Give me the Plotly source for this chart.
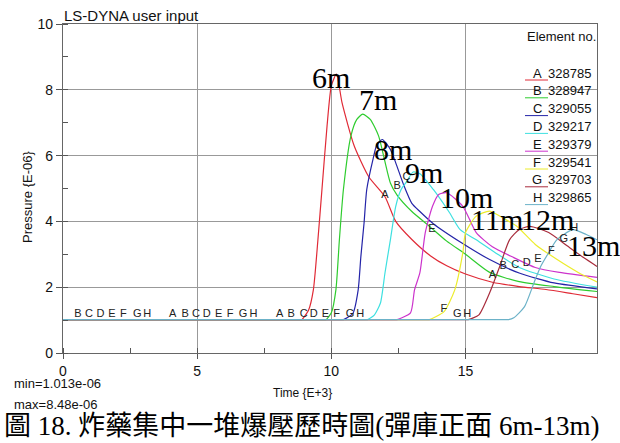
import plotly.graph_objects as go

# ---------------- data ----------------
element_letters = ["A", "B", "C", "D", "E", "F", "G", "H"]
element_ids = ["328785", "328947", "329055", "329217", "329379", "329541", "329703", "329865"]
distance_labels = ["6m", "7m", "8m", "9m", "10m", "11m", "12m", "13m"]
line_colors = ["#e02a36", "#2ecc2e", "#2424a8", "#3ee0e0", "#cc33cc", "#ecec2c", "#a82c3c", "#6cb2c8"]

a_time = [0, 8.5, 8.86, 8.9, 9.15, 9.33, 9.5, 9.65, 9.84, 10.0, 10.19, 10.4, 10.85, 11.4, 12.0, 12.4, 13.0, 13.7, 14.3, 15.0, 16.0, 17.0, 18.0, 19.0, 19.9]
a_pres = [1.013, 1.013, 1.013, 1.013, 1.3, 1.92, 3.44, 4.97, 6.9, 8.12, 8.48, 7.6, 6.3, 5.35, 4.75, 4.0, 3.45, 2.95, 2.65, 2.4, 2.15, 2.02, 1.93, 1.8, 1.68]

b_time = [0, 9.4, 9.76, 9.8, 10.0, 10.17, 10.3, 10.45, 10.73, 10.95, 11.17, 11.45, 11.76, 11.98, 12.2, 12.45, 13.0, 13.66, 14.3, 15.0, 15.9, 17.0, 18.3, 19.9]
b_pres = [1.013, 1.013, 1.013, 1.013, 1.22, 1.92, 3.44, 4.97, 6.6, 7.1, 7.26, 7.1, 6.6, 5.88, 5.17, 4.8, 4.3, 3.85, 3.4, 3.0, 2.45, 2.17, 2.02, 1.87]

c_time = [0, 10.0, 10.41, 10.45, 10.8, 11.0, 11.1, 11.22, 11.32, 11.55, 11.7, 11.9, 12.2, 12.4, 12.7, 13.0, 13.3, 13.8, 14.85, 15.9, 17.0, 18.3, 19.9]
c_pres = [1.013, 1.013, 1.013, 1.013, 1.2, 1.92, 2.93, 3.96, 4.97, 5.88, 6.34, 6.49, 6.19, 5.78, 5.1, 4.55, 4.3, 3.93, 3.35, 2.84, 2.43, 2.13, 1.95]

d_time = [0, 11.0, 11.31, 11.35, 11.6, 11.83, 12.0, 12.2, 12.4, 12.6, 12.78, 13.05, 13.3, 13.8, 14.4, 14.8, 15.4, 16.2, 17.0, 18.3, 19.9]
d_pres = [1.013, 1.013, 1.013, 1.013, 1.15, 1.52, 2.44, 3.44, 4.46, 4.97, 5.18, 5.5, 5.45, 4.97, 4.27, 3.75, 3.44, 3.0, 2.6, 2.25, 2.0]

e_time = [0, 12.0, 12.41, 12.45, 12.95, 13.1, 13.3, 13.5, 13.77, 14.0, 14.3, 14.9, 15.4, 16.0, 16.8, 17.6, 18.5, 19.9]
e_pres = [1.013, 1.013, 1.013, 1.013, 1.22, 1.92, 2.44, 3.66, 4.46, 4.82, 4.87, 4.46, 3.66, 3.23, 2.9, 2.6, 2.45, 2.3]

f_time = [0, 13.2, 13.61, 13.65, 14.2, 14.6, 14.9, 15.0, 15.4, 15.9, 16.4, 16.9, 17.6, 18.4, 19.2, 19.9]
f_pres = [1.013, 1.013, 1.013, 1.013, 1.26, 1.92, 3.05, 3.66, 4.16, 4.31, 4.1, 3.86, 3.3, 2.85, 2.45, 2.16]

g_time = [0, 14.7, 15.06, 15.1, 15.5, 15.9, 16.27, 16.64, 17.0, 17.4, 18.1, 18.8, 19.4, 19.9]
g_pres = [1.013, 1.013, 1.013, 1.013, 1.16, 1.83, 2.62, 3.44, 3.75, 3.85, 3.66, 3.25, 2.9, 2.63]

h_time = [0, 16.2, 16.56, 16.6, 16.8, 17.2, 17.55, 17.8, 18.1, 18.4, 19.0, 19.5, 19.9]
h_pres = [1.013, 1.013, 1.013, 1.013, 1.07, 1.41, 2.13, 2.63, 3.05, 3.44, 3.75, 3.6, 3.44]

curve_times = [a_time, b_time, c_time, d_time, e_time, f_time, g_time, h_time]
curve_pres = [a_pres, b_pres, c_pres, d_pres, e_pres, f_pres, g_pres, h_pres]

# curve marker letters (LS-DYNA style)
marker_text = list("BCDEFGH") + list("ABCDEFGH") + list("ABCDEFGH") + list("FGH") + \
    list("ABCE") + list("ABCDEFGH")
marker_time = [0.56, 0.97, 1.4, 1.82, 2.25, 2.77, 3.14,
               4.09, 4.55, 4.96, 5.36, 5.8, 6.23, 6.71, 7.1,
               8.07, 8.5, 8.97, 9.34, 9.78, 10.2, 10.7, 11.08,
               14.19, 14.69, 15.06,
               12.0, 12.45, 12.8, 13.75,
               16.0, 16.4, 16.85, 17.28, 17.7, 18.2, 18.66, 19.05]
marker_pres = [1.17] * 23 + [1.33, 1.17, 1.17] + \
    [4.8, 5.08, 5.35, 3.75] + [2.35, 2.65, 2.66, 2.72, 2.85, 3.1, 3.47, 3.78]

# distance label anchors (time, pressure)
dist_time = [10.0, 11.75, 12.3, 13.47, 15.02, 16.16, 18.06, 19.76]
dist_pres = [8.38, 7.71, 6.19, 5.49, 4.73, 4.05, 4.05, 3.26]

x_ticks = [0, 5, 10, 15]
y_ticks = [0, 2, 4, 6, 8, 10]

min_text = "min=1.013e-06"
max_text = "max=8.48e-06"
caption = "圖 18. 炸藥集中一堆爆壓歷時圖(彈庫正面 6m-13m)"

# ---------------- figure ----------------
W, H = 620, 443
L, R, T, B = 63, 23, 24, 90
PW, PH = W - L - R, H - T - B


def px(xp):
    return (xp - L) / PW


def py(yp):
    return (H - B - yp) / PH


SANS = "Liberation Sans, Arial, sans-serif"
SERIF = "Liberation Serif, Times New Roman, serif"

fig = go.Figure()
for i in range(8):
    fig.add_trace(go.Scatter(
        x=curve_times[i], y=curve_pres[i], mode="lines",
        line=dict(color=line_colors[i], width=1.2, shape="spline", smoothing=0.6),
        showlegend=False, hoverinfo="skip"))

fig.add_trace(go.Scatter(
    x=marker_time, y=marker_pres, mode="text", text=marker_text,
    textfont=dict(family=SANS, size=11, color="#222222"),
    showlegend=False, hoverinfo="skip", cliponaxis=False))

annotations = []
for t, p, s in zip(dist_time, dist_pres, distance_labels):
    annotations.append(dict(x=t, y=p, xref="x", yref="y", text=s, showarrow=False,
                            font=dict(family=SERIF, size=30, color="#000000"),
                            xanchor="center", yanchor="middle"))

# title and axis titles
annotations.append(dict(x=px(62), y=py(16), xref="paper", yref="paper", text="LS-DYNA user input",
                        showarrow=False, xanchor="left", yanchor="middle",
                        font=dict(family=SANS, size=15, color="#111111")))
annotations.append(dict(x=px(302), y=py(393), xref="paper", yref="paper", text="Time {E+3}",
                        showarrow=False, xanchor="center", yanchor="middle",
                        font=dict(family=SANS, size=12, color="#111111")))
annotations.append(dict(x=px(27), y=py(197), xref="paper", yref="paper", text="Pressure {E-06}",
                        showarrow=False, xanchor="center", yanchor="middle", textangle=-90,
                        font=dict(family=SANS, size=13, color="#111111")))
annotations.append(dict(x=px(12), y=py(383), xref="paper", yref="paper", text=min_text,
                        showarrow=False, xanchor="left", yanchor="middle",
                        font=dict(family=SANS, size=13, color="#111111")))
annotations.append(dict(x=px(12), y=py(405), xref="paper", yref="paper", text=max_text,
                        showarrow=False, xanchor="left", yanchor="middle",
                        font=dict(family=SANS, size=13, color="#111111")))
annotations.append(dict(x=px(301), y=py(426), xref="paper", yref="paper", text=caption,
                        showarrow=False, xanchor="center", yanchor="middle",
                        font=dict(family="Liberation Serif, Noto Sans CJK TC, serif", size=27,
                                  color="#000000")))

# legend
annotations.append(dict(x=px(525), y=py(36), xref="paper", yref="paper", text="Element no.",
                        showarrow=False, xanchor="left", yanchor="middle",
                        font=dict(family=SANS, size=13, color="#111111")))
shapes = []
for i in range(8):
    yy = 73 + i * 17.8
    annotations.append(dict(x=px(537), y=py(yy), xref="paper", yref="paper", text=element_letters[i],
                            showarrow=False, xanchor="center", yanchor="middle",
                            font=dict(family=SANS, size=13, color="#111111")))
    annotations.append(dict(x=px(546), y=py(yy), xref="paper", yref="paper", text=element_ids[i],
                            showarrow=False, xanchor="left", yanchor="middle",
                            font=dict(family=SANS, size=13, color="#111111")))
    shapes.append(dict(type="line", xref="paper", yref="paper",
                       x0=px(525), x1=px(548), y0=py(yy + 7), y1=py(yy + 7),
                       line=dict(color=line_colors[i], width=1)))

fig.update_layout(
    width=W, height=H,
    margin=dict(l=L, r=R, t=T, b=B, pad=0),
    paper_bgcolor="white", plot_bgcolor="white",
    annotations=annotations, shapes=shapes,
    showlegend=False,
    xaxis=dict(range=[0, 19.9], tickvals=x_ticks, ticks="outside", ticklen=5, tickcolor="#555555",
               showgrid=True, gridcolor="#999999", gridwidth=1.3, zeroline=False,
               showline=True, linecolor="#666666", linewidth=1.3, mirror=True,
               tickfont=dict(family=SANS, size=14, color="#111111"),
               minor=dict(dtick=2.5, ticks="inside", ticklen=5, tickcolor="#555555", showgrid=False)),
    yaxis=dict(range=[0, 10], tickvals=y_ticks, ticks="outside", ticklen=6, tickcolor="#555555",
               showgrid=True, gridcolor="#999999", gridwidth=1.3, zeroline=False,
               showline=True, linecolor="#666666", linewidth=1.3, mirror=True,
               tickfont=dict(family=SANS, size=14, color="#111111"),
               minor=dict(dtick=1, ticks="inside", ticklen=5, tickcolor="#555555", showgrid=False)),
)

fig.write_html("out.html")
